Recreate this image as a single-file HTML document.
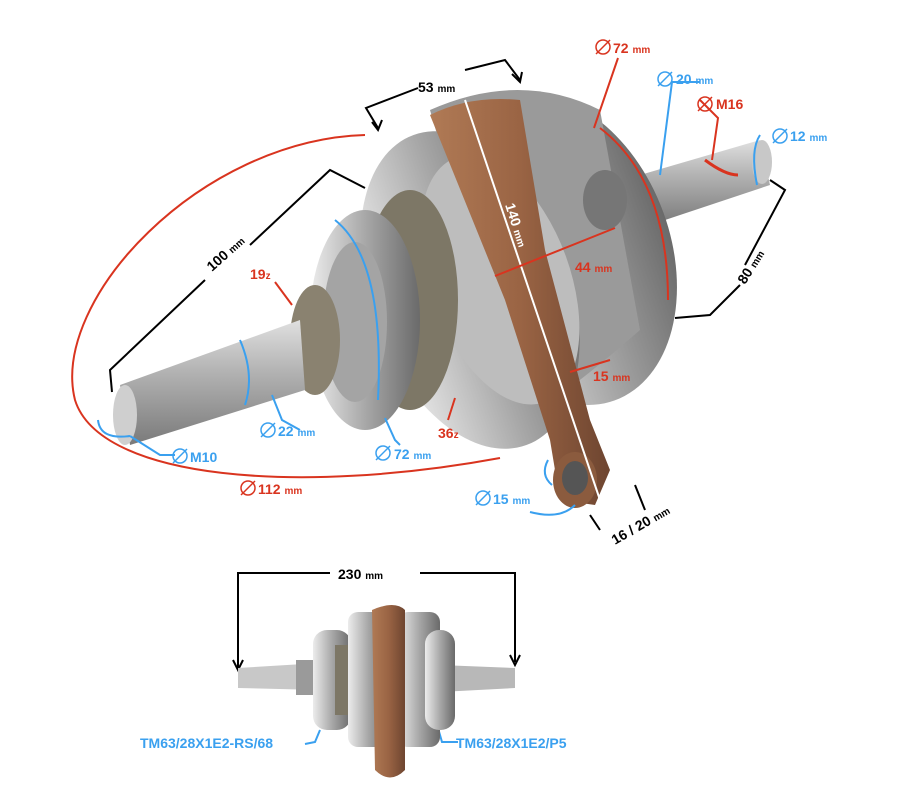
<!DOCTYPE html>
<html><head><meta charset="utf-8"><style>
html,body{margin:0;padding:0;background:#fff}
svg{display:block}
text{font-family:"Liberation Sans",sans-serif;font-weight:bold}
</style></head><body>
<svg width="900" height="800" viewBox="0 0 900 800" xmlns="http://www.w3.org/2000/svg">
<defs>
<linearGradient id="met" x1="0" y1="0" x2="0" y2="1">
<stop offset="0" stop-color="#e0e0e0"/><stop offset="0.4" stop-color="#b4b4b4"/><stop offset="1" stop-color="#7a7a7a"/></linearGradient>
<linearGradient id="met2" x1="0" y1="0" x2="1" y2="0">
<stop offset="0" stop-color="#ececec"/><stop offset="0.5" stop-color="#a8a8a8"/><stop offset="1" stop-color="#6a6a6a"/></linearGradient>
<linearGradient id="cop" x1="0" y1="0" x2="1" y2="0">
<stop offset="0" stop-color="#b07a55"/><stop offset="0.5" stop-color="#9a6444"/><stop offset="1" stop-color="#6e4530"/></linearGradient>
<g id="dia"><circle r="7" fill="none" stroke-width="1.5"/><line x1="-7" y1="7" x2="7" y2="-7" stroke-width="1.5"/></g>
</defs>

<polygon points="640,175 760,140 770,185 650,225" fill="url(#met)"/>
<ellipse cx="762" cy="162" rx="10" ry="22" fill="#c8c8c8"/>
<ellipse cx="560" cy="250" rx="110" ry="160" fill="url(#met2)" transform="rotate(-20 560 250)"/>
<path d="M430 110 Q520 70 600 110 L640 330 Q560 400 520 420 Z" fill="#9a9a9a"/>
<ellipse cx="470" cy="290" rx="100" ry="165" fill="url(#met2)" transform="rotate(-20 470 290)"/>
<ellipse cx="500" cy="280" rx="70" ry="130" fill="#bdbdbd" transform="rotate(-20 500 280)"/>
<ellipse cx="605" cy="200" rx="22" ry="30" fill="#767676"/>
<ellipse cx="410" cy="300" rx="48" ry="110" fill="#7d7766"/>
<ellipse cx="365" cy="320" rx="55" ry="110" fill="url(#met2)"/>
<ellipse cx="355" cy="322" rx="32" ry="80" fill="#a4a4a4"/>
<ellipse cx="315" cy="340" rx="25" ry="55" fill="#8a8270"/>
<polygon points="120,385 300,320 305,390 130,445" fill="url(#met)"/>
<ellipse cx="125" cy="415" rx="12" ry="30" fill="#cfcfcf"/>
<path d="M430 115 Q470 95 520 100 L545 250 L590 420 L610 470 L595 505 L560 500 L550 440 L505 300 Z" fill="url(#cop)"/>
<ellipse cx="575" cy="480" rx="22" ry="28" fill="#8b5b3e"/>
<ellipse cx="575" cy="478" rx="13" ry="17" fill="#555"/>

<g fill="none" stroke-width="2">
<polyline points="378,128 366,108 418,88" stroke="#000"/>
<polyline points="465,70 505,60 520,80" stroke="#000"/>
<path d="M372 122 l6 8 l4 -10" stroke="#000"/>
<path d="M512 74 l8 8 l2 -10" stroke="#000"/>
<polyline points="618,58 594,128" stroke="#d9341f"/>
<path d="M600 128 Q668 180 668 300" stroke="#d9341f"/>
<polyline points="700,82 672,82 660,175" stroke="#3aa0ef"/>
<polyline points="700,100 718,118 712,160" stroke="#d9341f"/>
<path d="M705 160 Q725 175 738 175" stroke="#d9341f" stroke-width="3"/>
<path d="M760 135 Q750 150 757 185" stroke="#3aa0ef"/>
<polyline points="770,180 785,190 745,265" stroke="#000"/>
<polyline points="740,285 710,315 675,318" stroke="#000"/>
<line x1="465" y1="100" x2="600" y2="500" stroke="#fff"/>
<line x1="495" y1="276" x2="615" y2="228" stroke="#d9341f"/>
<line x1="570" y1="372" x2="610" y2="360" stroke="#d9341f"/>
<polyline points="365,188 330,170 250,245" stroke="#000"/>
<polyline points="205,280 110,370 112,392" stroke="#000"/>
<path d="M365 135 C200 140 50 300 75 400 C100 480 300 495 500 458" stroke="#d9341f"/>
<path d="M240 340 Q255 375 245 405" stroke="#3aa0ef"/>
<path d="M335 220 Q385 260 378 400" stroke="#3aa0ef"/>
<path d="M98 420 Q100 440 130 436" stroke="#3aa0ef"/>
<polyline points="130,436 160,455 175,455" stroke="#3aa0ef"/>
<polyline points="272,395 282,420 300,430" stroke="#3aa0ef"/>
<polyline points="385,418 395,440 400,445" stroke="#3aa0ef"/>
<line x1="275" y1="282" x2="292" y2="305" stroke="#d9341f"/>
<line x1="448" y1="420" x2="455" y2="398" stroke="#d9341f"/>
<path d="M530 512 Q560 520 575 505" stroke="#3aa0ef"/>
<path d="M548 460 Q540 475 552 485" stroke="#3aa0ef"/>
<polyline points="590,515 600,530" stroke="#000"/>
<polyline points="635,485 645,510" stroke="#000"/>
<polyline points="238,668 238,573 330,573" stroke="#000"/>
<polyline points="420,573 515,573 515,662" stroke="#000"/>
<polyline points="233,660 238,670 243,660" stroke="#000"/>
<polyline points="510,655 515,665 520,655" stroke="#000"/>
<polyline points="305,744 315,742 320,730" stroke="#3aa0ef"/>
<polyline points="458,742 442,742 438,728" stroke="#3aa0ef"/>
</g>

<polygon points="238,668 320,663 320,690 238,688" fill="#c8c8c8"/>
<polygon points="440,665 515,668 515,688 440,692" fill="#b8b8b8"/>
<rect x="296" y="660" width="24" height="35" fill="#9a9a9a"/>
<rect x="313" y="630" width="38" height="100" rx="14" fill="url(#met2)"/>
<rect x="335" y="645" width="20" height="70" fill="#7d7766"/>
<rect x="348" y="612" width="40" height="135" rx="10" fill="url(#met2)"/>
<rect x="398" y="612" width="42" height="135" rx="10" fill="url(#met2)"/>
<rect x="425" y="630" width="30" height="100" rx="14" fill="url(#met2)"/>
<path d="M372 610 Q395 600 405 610 L405 770 Q390 785 375 770 Z" fill="url(#cop)"/>

<g font-size="14">
<text x="418" y="92" fill="#000">53 <tspan font-size="10">mm</tspan></text>
<use href="#dia" x="603" y="47" stroke="#d9341f"/>
<text x="613" y="53" fill="#d9341f">72 <tspan font-size="10">mm</tspan></text>
<use href="#dia" x="665" y="79" stroke="#3aa0ef"/>
<text x="676" y="84" fill="#3aa0ef">20 <tspan font-size="10">mm</tspan></text>
<use href="#dia" x="705" y="104" stroke="#d9341f"/>
<text x="716" y="109" fill="#d9341f">M16</text>
<use href="#dia" x="780" y="136" stroke="#3aa0ef"/>
<text x="790" y="141" fill="#3aa0ef">12 <tspan font-size="10">mm</tspan></text>
<text x="0" y="0" fill="#000" transform="translate(745,285) rotate(-58)">80 <tspan font-size="10">mm</tspan></text>
<text x="0" y="0" fill="#fff" transform="translate(505,205) rotate(72)">140 <tspan font-size="10">mm</tspan></text>
<text x="575" y="272" fill="#d9341f">44 <tspan font-size="10">mm</tspan></text>
<text x="593" y="381" fill="#d9341f">15 <tspan font-size="10">mm</tspan></text>
<text x="0" y="0" fill="#000" transform="translate(212,272) rotate(-42)">100 <tspan font-size="10">mm</tspan></text>
<text x="250" y="279" fill="#d9341f">19<tspan font-size="10">z</tspan></text>
<text x="438" y="438" fill="#d9341f">36<tspan font-size="10">z</tspan></text>
<use href="#dia" x="268" y="430" stroke="#3aa0ef"/>
<text x="278" y="436" fill="#3aa0ef">22 <tspan font-size="10">mm</tspan></text>
<use href="#dia" x="383" y="453" stroke="#3aa0ef"/>
<text x="394" y="459" fill="#3aa0ef">72 <tspan font-size="10">mm</tspan></text>
<use href="#dia" x="180" y="456" stroke="#3aa0ef"/>
<text x="190" y="462" fill="#3aa0ef">M10</text>
<use href="#dia" x="248" y="488" stroke="#d9341f"/>
<text x="258" y="494" fill="#d9341f">112 <tspan font-size="10">mm</tspan></text>
<use href="#dia" x="483" y="498" stroke="#3aa0ef"/>
<text x="493" y="504" fill="#3aa0ef">15 <tspan font-size="10">mm</tspan></text>
<text x="0" y="0" fill="#000" transform="translate(615,545) rotate(-30)">16 / 20 <tspan font-size="10">mm</tspan></text>
<text x="338" y="579" fill="#000">230 <tspan font-size="10">mm</tspan></text>
<text x="140" y="748" fill="#3aa0ef">TM63/28X1E2-RS/68</text>
<text x="456" y="748" fill="#3aa0ef">TM63/28X1E2/P5</text>
</g>
</svg>
</body></html>
